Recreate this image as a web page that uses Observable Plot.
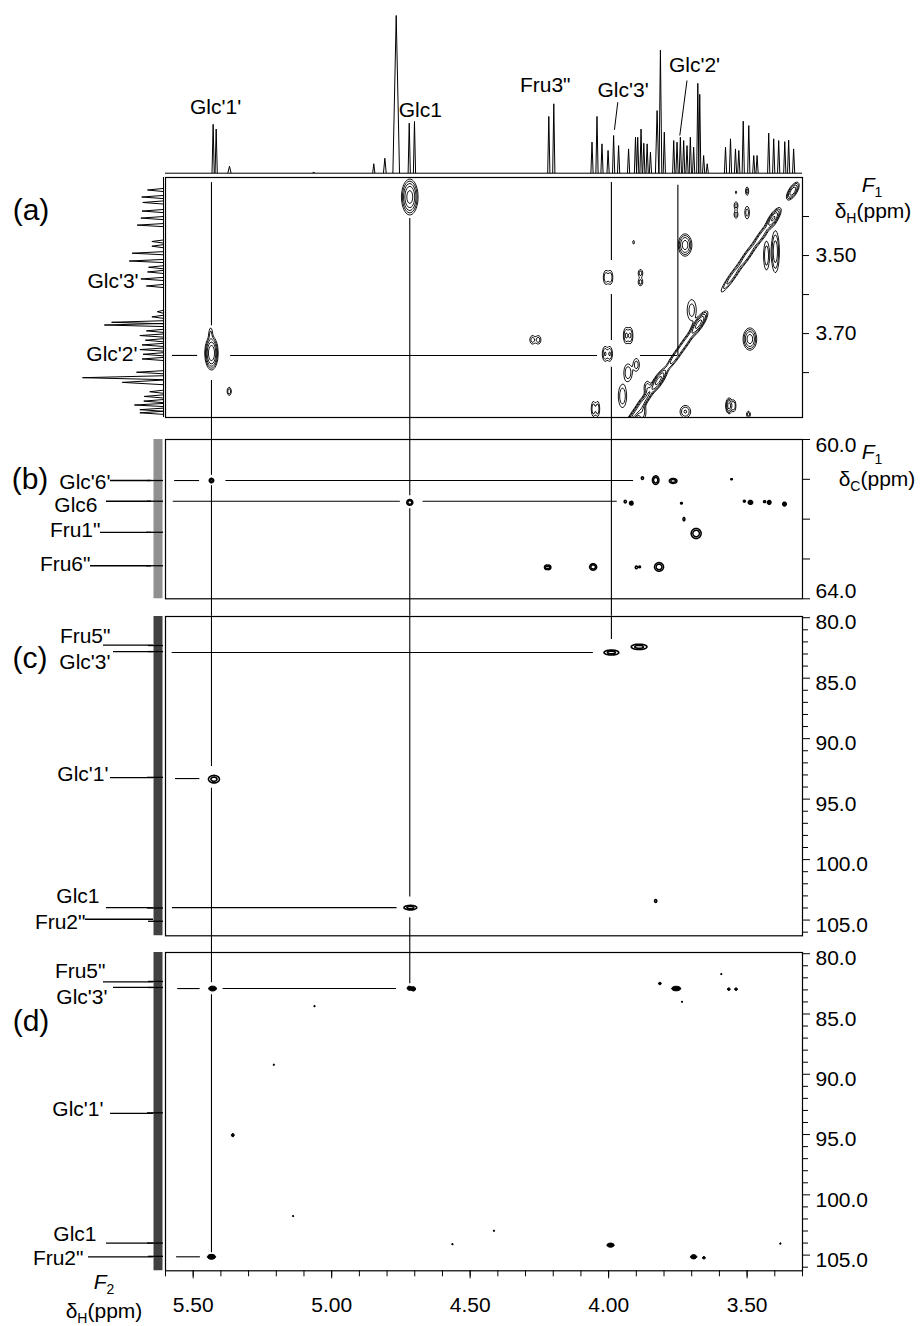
<!DOCTYPE html>
<html>
<head>
<meta charset="utf-8">
<script src="https://cdn.jsdelivr.net/npm/d3@7"></script>
<script src="https://cdn.jsdelivr.net/npm/@observablehq/plot@0.6"></script>
<style>
  html, body { margin: 0; padding: 0; background: #fff; }
  #fig { position: relative; width: 921px; height: 1326px; background: #fff; overflow: hidden;
         font-family: "Liberation Sans", Arial, Helvetica, sans-serif; color: #000; }
  .lab { position: absolute; font-size: 21px; line-height: 1; white-space: nowrap; transform: translate(-50%, -50%); }
  .lab sub { font-size: 14px; vertical-align: -5px; line-height: 0; }
  .big { font-size: 30px; }
</style>
</head>
<body>
<div id="fig"></div>
<script>
// ---------------- DATA ----------------
const xDomain = [5.60, 3.30];               // F2 δH (ppm)
const xMinorTicks = [5.6,5.5,5.4,5.3,5.2,5.1,5.0,4.9,4.8,4.7,4.6,4.5,4.4,4.3,4.2,4.1,4.0,3.9,3.8,3.7,3.6,3.5,3.4,3.3];
const xMajorTicks = [5.5,5.0,4.5,4.0,3.5];

// 1H spectrum peaks: [shift (ppm), height (HOD = 100), half base width (ppm)]
const protonPeaks = [
  [5.428,31,0.004],[5.417,28,0.004],[5.369,4.4,0.006],[5.065,0.8,0.004],
  [4.848,6,0.004],[4.808,9.5,0.005],[4.767,100,0.012],[4.720,31.7,0.004],[4.701,32.8,0.004],
  [4.216,36,0.004],[4.198,44,0.004],
  [4.060,19.7,0.004],[4.042,36,0.004],[4.024,18.6,0.004],[4.002,14.4,0.004],[3.982,23.9,0.004],
  [3.964,17.5,0.004],[3.928,15.4,0.004],[3.903,22.8,0.004],[3.895,22.8,0.004],[3.883,28,0.004],
  [3.873,19,0.004],[3.861,18.6,0.004],[3.849,13.3,0.004],[3.825,39.7,0.006],[3.813,78,0.005],
  [3.799,26,0.004],[3.765,20.7,0.004],[3.753,19.7,0.004],[3.741,22.8,0.004],[3.729,20.7,0.004],
  [3.717,17.5,0.004],[3.705,22.8,0.004],[3.693,16.5,0.004],[3.678,57,0.004],[3.671,50,0.004],
  [3.657,11.2,0.004],[3.644,6,0.004],[3.578,16.5,0.004],[3.560,21.8,0.004],[3.542,15.4,0.004],
  [3.530,14.4,0.004],[3.514,33,0.004],[3.494,30.2,0.004],[3.476,11.2,0.004],[3.464,11.2,0.004],
  [3.422,25.4,0.004],[3.404,21.8,0.004],[3.386,20.7,0.004],[3.364,20,0.004],[3.350,21,0.004],
  [3.332,15.4,0.004]
];
const spectrumLabels = [
  {text: "Glc'1'", x: 5.419, y: 41.7},
  {text: "Glc1",   x: 4.680, y: 40.2},
  {text: "Fru3\"", x: 4.229, y: 55.6},
  {text: "Glc'3'", x: 3.948, y: 52.8},
  {text: "Glc'2'", x: 3.690, y: 68.2}
];
const spectrumLeaders = [
  {x1: 3.967, y1: 45.0, x2: 3.979, y2: 27.5},
  {x1: 3.717, y1: 58.8, x2: 3.743, y2: 23.9}
];

// (a) 2D 1H-1H peaks: [δH F2, δH F1, σF2, σF1, amplitude]
const cosyPeaks = [
  [4.718,3.350,0.013,0.020,1.4],[5.434,3.750,0.010,0.018,1.8],[5.437,3.700,0.005,0.012,0.2],
  [5.370,3.848,0.005,0.007,0.3],[4.275,3.716,0.007,0.008,0.25],[4.254,3.716,0.007,0.008,0.25],
  [4.013,3.752,0.006,0.012,0.35],[3.996,3.752,0.006,0.012,0.35],[4.010,3.556,0.006,0.012,0.3],
  [3.994,3.556,0.006,0.012,0.3],[3.885,3.545,0.006,0.007,0.25],[3.885,3.568,0.006,0.007,0.25],
  [3.910,3.466,0.003,0.006,0.15],[3.937,3.705,0.006,0.013,0.35],[3.922,3.705,0.006,0.013,0.35],
  [3.724,3.473,0.012,0.014,0.8],[3.490,3.714,0.012,0.014,0.8],[4.055,3.893,0.005,0.013,0.3],
  [4.040,3.893,0.005,0.013,0.3],[3.565,3.885,0.006,0.010,0.8],[3.548,3.885,0.005,0.010,0.3],
  [3.495,3.907,0.005,0.006,0.25],[3.723,3.900,0.012,0.010,0.35],[3.540,3.338,0.003,0.004,0.15],
  [3.500,3.335,0.004,0.008,0.25],[3.540,3.372,0.005,0.007,0.25],[3.540,3.395,0.005,0.007,0.25],
  [3.500,3.390,0.006,0.012,0.25],[3.398,3.490,0.008,0.030,0.5],[3.430,3.500,0.007,0.025,0.3],
  [3.930,3.800,0.010,0.015,0.3],[3.950,3.860,0.010,0.020,0.3],[3.880,3.900,0.010,0.015,0.3],
  [3.700,3.640,0.012,0.020,0.25],[3.900,3.780,0.008,0.012,0.25],[3.860,3.840,0.008,0.012,0.3]
];
// diagonal peaks: [δ, σ along diagonal, σ across, amplitude]
const cosyDiagonal = [
  [3.335,0.010,0.009,0.9],[3.405,0.012,0.009,1.1],[3.450,0.018,0.008,0.5],[3.500,0.018,0.008,0.5],
  [3.555,0.022,0.008,0.45],[3.675,0.014,0.009,1.3],[3.720,0.018,0.008,0.5],[3.760,0.018,0.008,0.5],
  [3.820,0.014,0.009,1.3],[3.870,0.018,0.008,0.6],[3.910,0.018,0.008,0.6]
];

// (b) 1H-13C peaks (60-64 ppm)
const hsqcPeaks = [
  [5.434,61.03,0.005,0.035,0.7],[4.718,61.58,0.006,0.040,1.0],[3.878,60.97,0.003,0.025,0.5],
  [3.830,61.02,0.0065,0.060,1.0],[3.767,61.04,0.008,0.035,0.9],[3.940,61.56,0.003,0.025,0.5],
  [3.918,61.60,0.004,0.030,0.7],[3.737,61.60,0.003,0.020,0.4],[3.510,61.55,0.003,0.020,0.45],
  [3.488,61.58,0.005,0.030,0.7],[3.437,61.56,0.003,0.020,0.45],[3.420,61.58,0.004,0.030,0.7],
  [3.365,61.62,0.004,0.030,0.7],[3.728,62.00,0.003,0.040,0.4],[3.684,62.36,0.010,0.070,1.0],
  [4.225,63.21,0.004,0.035,0.7],[4.215,63.21,0.004,0.035,0.7],[4.056,63.20,0.007,0.045,1.0],
  [3.900,63.21,0.003,0.025,0.5],[3.888,63.20,0.003,0.020,0.4],[3.818,63.20,0.009,0.060,1.0],
  [3.556,61.00,0.003,0.015,0.4]
];
// (c) peaks (80-106 ppm)
const hmbcCPeaks = [
  [3.990,82.88,0.015,0.11,1],[3.890,82.41,0.016,0.12,1],[3.830,103.42,0.003,0.10,0.45],
  [5.425,93.35,0.011,0.17,1],[4.716,103.97,0.013,0.10,1]
];
// (d) peaks (80-106 ppm)
const hmbcDPeaks = [
  [5.430,82.89,0.0085,0.12,1],[4.720,82.86,0.005,0.11,0.8],[4.705,82.92,0.005,0.11,0.9],
  [5.062,84.35,0.003,0.08,0.4],[5.209,89.21,0.003,0.08,0.4],[5.357,95.05,0.004,0.10,0.6],
  [5.139,101.76,0.003,0.08,0.4],[3.815,82.47,0.004,0.08,0.6],[3.756,82.89,0.010,0.11,1],
  [3.735,83.99,0.003,0.08,0.4],[3.593,81.69,0.003,0.08,0.4],[3.566,82.94,0.004,0.08,0.6],
  [3.540,82.94,0.004,0.08,0.6],[4.414,102.98,0.003,0.08,0.4],[4.564,104.09,0.003,0.08,0.4],
  [3.993,104.17,0.008,0.10,1],[3.693,105.14,0.007,0.10,1],[3.656,105.22,0.004,0.08,0.6],
  [3.380,104.04,0.003,0.08,0.4],[5.434,105.14,0.009,0.12,1]
];

// correlation lines (ppm)
const vLinesA = [
  {x:5.434,y1:3.313,y2:3.680},{x:5.434,y1:3.820,y2:3.972},{x:4.718,y1:3.405,y2:3.972},
  {x:3.990,y1:3.313,y2:3.513},{x:3.990,y1:3.600,y2:3.718},{x:3.990,y1:3.786,y2:3.972},
  {x:3.750,y1:3.320,y2:3.756}
];
const hLinesA = [
  {y:3.756,x1:5.575,x2:5.484},{y:3.756,x1:5.365,x2:4.040},{y:3.756,x1:3.885,x2:3.750}
];
const vLinesB = [
  {x:5.434,y1:60,y2:60.90},{x:5.434,y1:61.16,y2:64.44},{x:4.718,y1:60,y2:61.41},
  {x:4.718,y1:61.74,y2:64.44},{x:3.990,y1:60,y2:64.44}
];
const hLinesB = [
  {y:61.03,x1:5.567,x2:5.477},{y:61.03,x1:5.382,x2:3.910},
  {y:61.55,x1:5.572,x2:4.752},{y:61.55,x1:4.670,x2:3.969}
];
const vLinesC = [
  {x:5.434,y1:79.9,y2:92.3},{x:5.434,y1:94.1,y2:107.68},{x:4.718,y1:79.9,y2:103.1},
  {x:4.718,y1:104.8,y2:107.68},{x:3.990,y1:79.9,y2:81.8}
];
const hLinesC = [
  {y:82.88,x1:5.576,x2:4.055},{y:93.30,x1:5.564,x2:5.476},{y:103.97,x1:5.575,x2:4.764}
];
const vLinesD = [
  {x:5.434,y1:79.9,y2:82.4},{x:5.434,y1:83.4,y2:104.8},{x:4.718,y1:79.9,y2:82.5}
];
const hLinesD = [
  {y:82.89,x1:5.556,x2:5.475},{y:82.89,x1:5.392,x2:4.766},{y:105.14,x1:5.560,x2:5.474}
];

// F1 axis ticks
const aMinorTicks = [3.4,3.5,3.6,3.7,3.8];
const aLabelTicks = [3.5,3.7];
const bMinorTicks = [60,61,62,63,64];
const cdMinorTicks = [81,82,83,84,86,87,88,89,91,92,93,94,96,97,98,99,101,102,103,104,106];
const cdMajorTicks = [80,85,90,95,100,105];

// left projections: labels (text right end in intensity units), leader lines and peaks
const projALabels = [{text:"Glc'3'", x:24, y:3.565},{text:"Glc'2'", x:25, y:3.752}];
const projBLabels = [
  {text:"Glc'6'", x:53, y:61.07},{text:"Glc6", x:66, y:61.66},
  {text:"Fru1\"", x:63, y:62.27},{text:"Fru6\"", x:73, y:63.13}
];
const projBLeaders = [{y:61.03,x1:53,x2:12},{y:61.55,x1:57,x2:12},{y:62.33,x1:63,x2:12},{y:63.17,x1:73,x2:12}];
const projBPeaks = [{y:61.03,h:16},{y:61.55,h:16},{y:62.33,h:17},{y:63.17,h:17}];
const projCLabels = [
  {text:"Fru5\"", x:53, y:81.5},{text:"Glc'3'", x:53, y:83.7},{text:"Glc'1'", x:55, y:92.94},
  {text:"Glc1", x:64, y:103.0},{text:"Fru2\"", x:78, y:105.21}
];
const projCLeaders = [
  {y:82.27,x1:60,x2:10},{y:82.80,x1:50,x2:10},{y:93.22,x1:53,x2:10},
  {y:103.97,x1:57,x2:10},{y:104.93,x1:78,x2:10}
];
const projDLabels = [
  {text:"Fru5\"", x:58, y:81.42},{text:"Glc'3'", x:56, y:83.63},{text:"Glc'1'", x:60, y:92.89},
  {text:"Glc1", x:67, y:103.26},{text:"Fru2\"", x:80, y:105.25}
];
const projDLeaders = [
  {y:82.33,x1:60,x2:10},{y:82.80,x1:50,x2:10},{y:93.25,x1:53,x2:10},
  {y:104.00,x1:57,x2:10},{y:105.14,x1:75,x2:10}
];
const projCDPeaks = [{y:82.3,h:15},{y:82.8,h:15},{y:93.2,h:16},{y:104.0,h:16},{y:105.1,h:15}];
const c13NoiseLevel = [5.5];

// ---------------- RENDER ----------------
const fig = document.getElementById("fig");
const FONT = '"Liberation Sans", Arial, Helvetica, sans-serif';
const baseStyle = {fontFamily: FONT, fontSize: "21px", color: "#000", background: "transparent", overflow: "visible"};
const W = 921, ML = 165, MR = 119;
function place(el, top) {
  el.style.position = "absolute"; el.style.left = "0px"; el.style.top = top + "px";
  fig.appendChild(el);
}
function field(peaks, diag = []) {
  return (x, y) => {
    let v = 0;
    for (const [px, py, sx, sy, a] of peaks) {
      const u = (x - px) / sx, w = (y - py) / sy, e = u * u + w * w;
      if (e < 40) v += a * Math.exp(-e / 2);
    }
    for (const [c, sAlong, sAcross, a] of diag) {
      const u = (x - y) / sAcross, w = ((x + y) / 2 - c) / sAlong, e = u * u + w * w;
      if (e < 40) v += a * Math.exp(-e / 2);
    }
    return v;
  };
}
const ink = {stroke: "#000"};

// top 1D spectrum
place(Plot.plot({
  width: W, height: 177, marginLeft: ML, marginRight: MR, marginTop: 15, marginBottom: 4.3,
  x: {domain: xDomain, axis: null}, y: {domain: [0, 100], axis: null}, style: baseStyle,
  marks: [
    Plot.ruleY([0], {...ink, strokeWidth: 1}),
    Plot.link(protonPeaks, {x1: d => d[0] + d[2], y1: 0, x2: d => d[0], y2: d => d[1], ...ink, strokeWidth: 1}),
    Plot.link(protonPeaks, {x1: d => d[0], y1: d => d[1], x2: d => d[0] - d[2], y2: 0, ...ink, strokeWidth: 1}),
    Plot.link(spectrumLeaders, {x1: "x1", y1: "y1", x2: "x2", y2: "y2", ...ink, strokeWidth: 1}),
    Plot.text(spectrumLabels, {x: "x", y: "y", text: "text", fill: "#000"})
  ]
}), 0);

// panel (a)
const aH = 240;
place(Plot.plot({
  width: W, height: aH, marginLeft: ML, marginRight: MR, marginTop: 0, marginBottom: 0,
  x: {domain: xDomain, axis: null}, y: {domain: [3.30, 3.915], reverse: true, axis: null}, style: baseStyle,
  marks: [
    Plot.contour({value: field(cosyPeaks, cosyDiagonal), x1: 5.60, x2: 3.30, y1: 3.30, y2: 3.915,
      thresholds: [0.1, 0.18, 0.32, 0.56, 1.0], stroke: "#000", strokeWidth: 0.9, pixelSize: 1}),
    Plot.ruleX(vLinesA, {x: "x", y1: "y1", y2: "y2", ...ink, strokeWidth: 1.1}),
    Plot.ruleY(hLinesA, {y: "y", x1: "x1", x2: "x2", ...ink, strokeWidth: 1.1}),
    Plot.frame({...ink, strokeWidth: 1.2}),
    Plot.axisY({anchor: "right", ticks: aMinorTicks, tickSize: 6, tickFormat: () => "", label: null}),
    Plot.axisY({anchor: "right", ticks: aLabelTicks, tickSize: 0, tickPadding: 13, tickFormat: d => d.toFixed(2), label: null})
  ]
}), 177);
place(Plot.plot({
  width: 165, height: aH, marginLeft: 0, marginRight: 2, marginTop: 0, marginBottom: 0,
  x: {domain: [157, 0], axis: null}, y: {domain: [3.30, 3.915], reverse: true, axis: null}, style: baseStyle,
  marks: [
    Plot.ruleX([0], {...ink, strokeWidth: 1}),
    Plot.link(protonPeaks.filter(d => d[0] >= 3.30 && d[0] <= 3.915),
      {y1: d => d[0] + d[2], x1: 0, y2: d => d[0], x2: d => d[1], ...ink, strokeWidth: 1}),
    Plot.link(protonPeaks.filter(d => d[0] >= 3.30 && d[0] <= 3.915),
      {y1: d => d[0], x1: d => d[1], y2: d => d[0] - d[2], x2: 0, ...ink, strokeWidth: 1}),
    Plot.text(projALabels, {x: "x", y: "y", text: "text", textAnchor: "end", fill: "#000"})
  ]
}), 177);

// panel (b)
const bH = 159.3;
place(Plot.plot({
  width: W, height: bH, marginLeft: ML, marginRight: MR, marginTop: 0, marginBottom: 0,
  x: {domain: xDomain, axis: null}, y: {domain: [60, 64], reverse: true, axis: null}, style: baseStyle,
  marks: [
    Plot.contour({value: field(hsqcPeaks), x1: 5.60, x2: 3.30, y1: 60, y2: 64,
      thresholds: [0.2, 0.5], stroke: "#000", strokeWidth: 1.5, pixelSize: 1}),
    Plot.ruleX(vLinesB, {x: "x", y1: "y1", y2: "y2", ...ink, strokeWidth: 1.1}),
    Plot.ruleY(hLinesB, {y: "y", x1: "x1", x2: "x2", ...ink, strokeWidth: 1.1}),
    Plot.frame({...ink, strokeWidth: 1.2}),
    Plot.axisY({anchor: "right", ticks: bMinorTicks, tickSize: 7, tickFormat: () => "", label: null}),
    Plot.axisY({anchor: "right", ticks: [60], tickSize: 0, tickPadding: 13, dy: 6, tickFormat: d => d.toFixed(1), label: null}),
    Plot.axisY({anchor: "right", ticks: [64], tickSize: 0, tickPadding: 13, dy: -8, tickFormat: d => d.toFixed(1), label: null})
  ]
}), 439);
place(Plot.plot({
  width: 165, height: bH, marginLeft: 0, marginRight: 2, marginTop: 0, marginBottom: 0,
  x: {domain: [163, 0], axis: null}, y: {domain: [60, 64], reverse: true, axis: null}, style: baseStyle,
  marks: [
    Plot.ruleX(c13NoiseLevel, {stroke: "#222", strokeWidth: 9, strokeOpacity: 0.5}),
    Plot.ruleY(projBPeaks, {y: "y", x1: 0, x2: "h", ...ink, strokeWidth: 1.3}),
    Plot.ruleY(projBLeaders, {y: "y", x1: "x1", x2: "x2", ...ink, strokeWidth: 1.3}),
    Plot.text(projBLabels, {x: "x", y: "y", text: "text", textAnchor: "end", fill: "#000"})
  ]
}), 439);

// panel (c)
const cH = 319.3;
place(Plot.plot({
  width: W, height: cH, marginLeft: ML, marginRight: MR, marginTop: 0, marginBottom: 0,
  x: {domain: xDomain, axis: null}, y: {domain: [79.9, 106.3], reverse: true, axis: null}, style: baseStyle,
  marks: [
    Plot.contour({value: field(hmbcCPeaks), x1: 5.60, x2: 3.30, y1: 79.9, y2: 106.3,
      thresholds: [0.2, 0.6], stroke: "#000", strokeWidth: 1.6, pixelSize: 1}),
    Plot.ruleX(vLinesC, {x: "x", y1: "y1", y2: "y2", ...ink, strokeWidth: 1.1}),
    Plot.ruleY(hLinesC, {y: "y", x1: "x1", x2: "x2", ...ink, strokeWidth: 1.1}),
    Plot.frame({...ink, strokeWidth: 1.2}),
    Plot.axisY({anchor: "right", ticks: cdMinorTicks, tickSize: 5, tickFormat: () => "", label: null}),
    Plot.axisY({anchor: "right", ticks: cdMajorTicks, tickSize: 7, tickFormat: () => "", label: null}),
    Plot.axisY({anchor: "right", ticks: cdMajorTicks, tickSize: 0, tickPadding: 13, dy: 5, tickFormat: d => d.toFixed(1), label: null})
  ]
}), 615.7);
place(Plot.plot({
  width: 165, height: cH, marginLeft: 0, marginRight: 2, marginTop: 0, marginBottom: 0,
  x: {domain: [163, 0], axis: null}, y: {domain: [79.9, 106.3], reverse: true, axis: null}, style: baseStyle,
  marks: [
    Plot.ruleX(c13NoiseLevel, {stroke: "#111", strokeWidth: 9, strokeOpacity: 0.8}),
    Plot.ruleY(projCDPeaks, {y: "y", x1: 0, x2: "h", ...ink, strokeWidth: 1.3}),
    Plot.ruleY(projCLeaders, {y: "y", x1: "x1", x2: "x2", ...ink, strokeWidth: 1.3}),
    Plot.text(projCLabels, {x: "x", y: "y", text: "text", textAnchor: "end", fill: "#000"})
  ]
}), 615.7);

// panel (d)
const dH = 318.3;
place(Plot.plot({
  width: W, height: dH + 56, marginLeft: ML, marginRight: MR, marginTop: 0, marginBottom: 56,
  x: {domain: xDomain}, y: {domain: [79.9, 106.3], reverse: true, axis: null}, style: baseStyle,
  marks: [
    Plot.contour({value: field(hmbcDPeaks), x1: 5.60, x2: 3.30, y1: 79.9, y2: 106.3,
      thresholds: [0.25], stroke: "#000", fill: "#000", strokeWidth: 1, pixelSize: 1}),
    Plot.ruleX(vLinesD, {x: "x", y1: "y1", y2: "y2", ...ink, strokeWidth: 1.1}),
    Plot.ruleY(hLinesD, {y: "y", x1: "x1", x2: "x2", ...ink, strokeWidth: 1.1}),
    Plot.frame({...ink, strokeWidth: 1.2}),
    Plot.axisY({anchor: "right", ticks: cdMinorTicks, tickSize: 5, tickFormat: () => "", label: null}),
    Plot.axisY({anchor: "right", ticks: cdMajorTicks, tickSize: 7, tickFormat: () => "", label: null}),
    Plot.axisY({anchor: "right", ticks: cdMajorTicks, tickSize: 0, tickPadding: 13, dy: 5, tickFormat: d => d.toFixed(1), label: null}),
    Plot.axisX({anchor: "bottom", ticks: xMinorTicks, tickSize: 6, tickFormat: () => "", label: null}),
    Plot.axisX({anchor: "bottom", ticks: xMajorTicks, tickSize: 8, tickPadding: 18, tickFormat: d => d.toFixed(2), label: null})
  ]
}), 951.7);
place(Plot.plot({
  width: 165, height: dH, marginLeft: 0, marginRight: 2, marginTop: 0, marginBottom: 0,
  x: {domain: [163, 0], axis: null}, y: {domain: [79.9, 106.3], reverse: true, axis: null}, style: baseStyle,
  marks: [
    Plot.ruleX(c13NoiseLevel, {stroke: "#111", strokeWidth: 9, strokeOpacity: 0.8}),
    Plot.ruleY(projCDPeaks, {y: "y", x1: 0, x2: "h", ...ink, strokeWidth: 1.3}),
    Plot.ruleY(projDLeaders, {y: "y", x1: "x1", x2: "x2", ...ink, strokeWidth: 1.3}),
    Plot.text(projDLabels, {x: "x", y: "y", text: "text", textAnchor: "end", fill: "#000"})
  ]
}), 951.7);

// HTML text labels
const htmlLabels = [
  {html: "(a)", x: 31, y: 210, big: true},
  {html: "(b)", x: 30, y: 479, big: true},
  {html: "(c)", x: 30, y: 658, big: true},
  {html: "(d)", x: 31, y: 1021, big: true},
  {html: "<i>F</i><sub>1</sub>", x: 872, y: 184},
  {html: "&delta;<sub>H</sub>(ppm)", x: 873, y: 210},
  {html: "<i>F</i><sub>1</sub>", x: 872, y: 451},
  {html: "&delta;<sub>C</sub>(ppm)", x: 877, y: 478},
  {html: "<i>F</i><sub>2</sub>", x: 104, y: 1281},
  {html: "&delta;<sub>H</sub>(ppm)", x: 104, y: 1310}
];
for (const l of htmlLabels) {
  const d = document.createElement("div");
  d.className = "lab" + (l.big ? " big" : "");
  d.innerHTML = l.html;
  d.style.left = l.x + "px"; d.style.top = l.y + "px";
  fig.appendChild(d);
}
</script>
</body>
</html>
